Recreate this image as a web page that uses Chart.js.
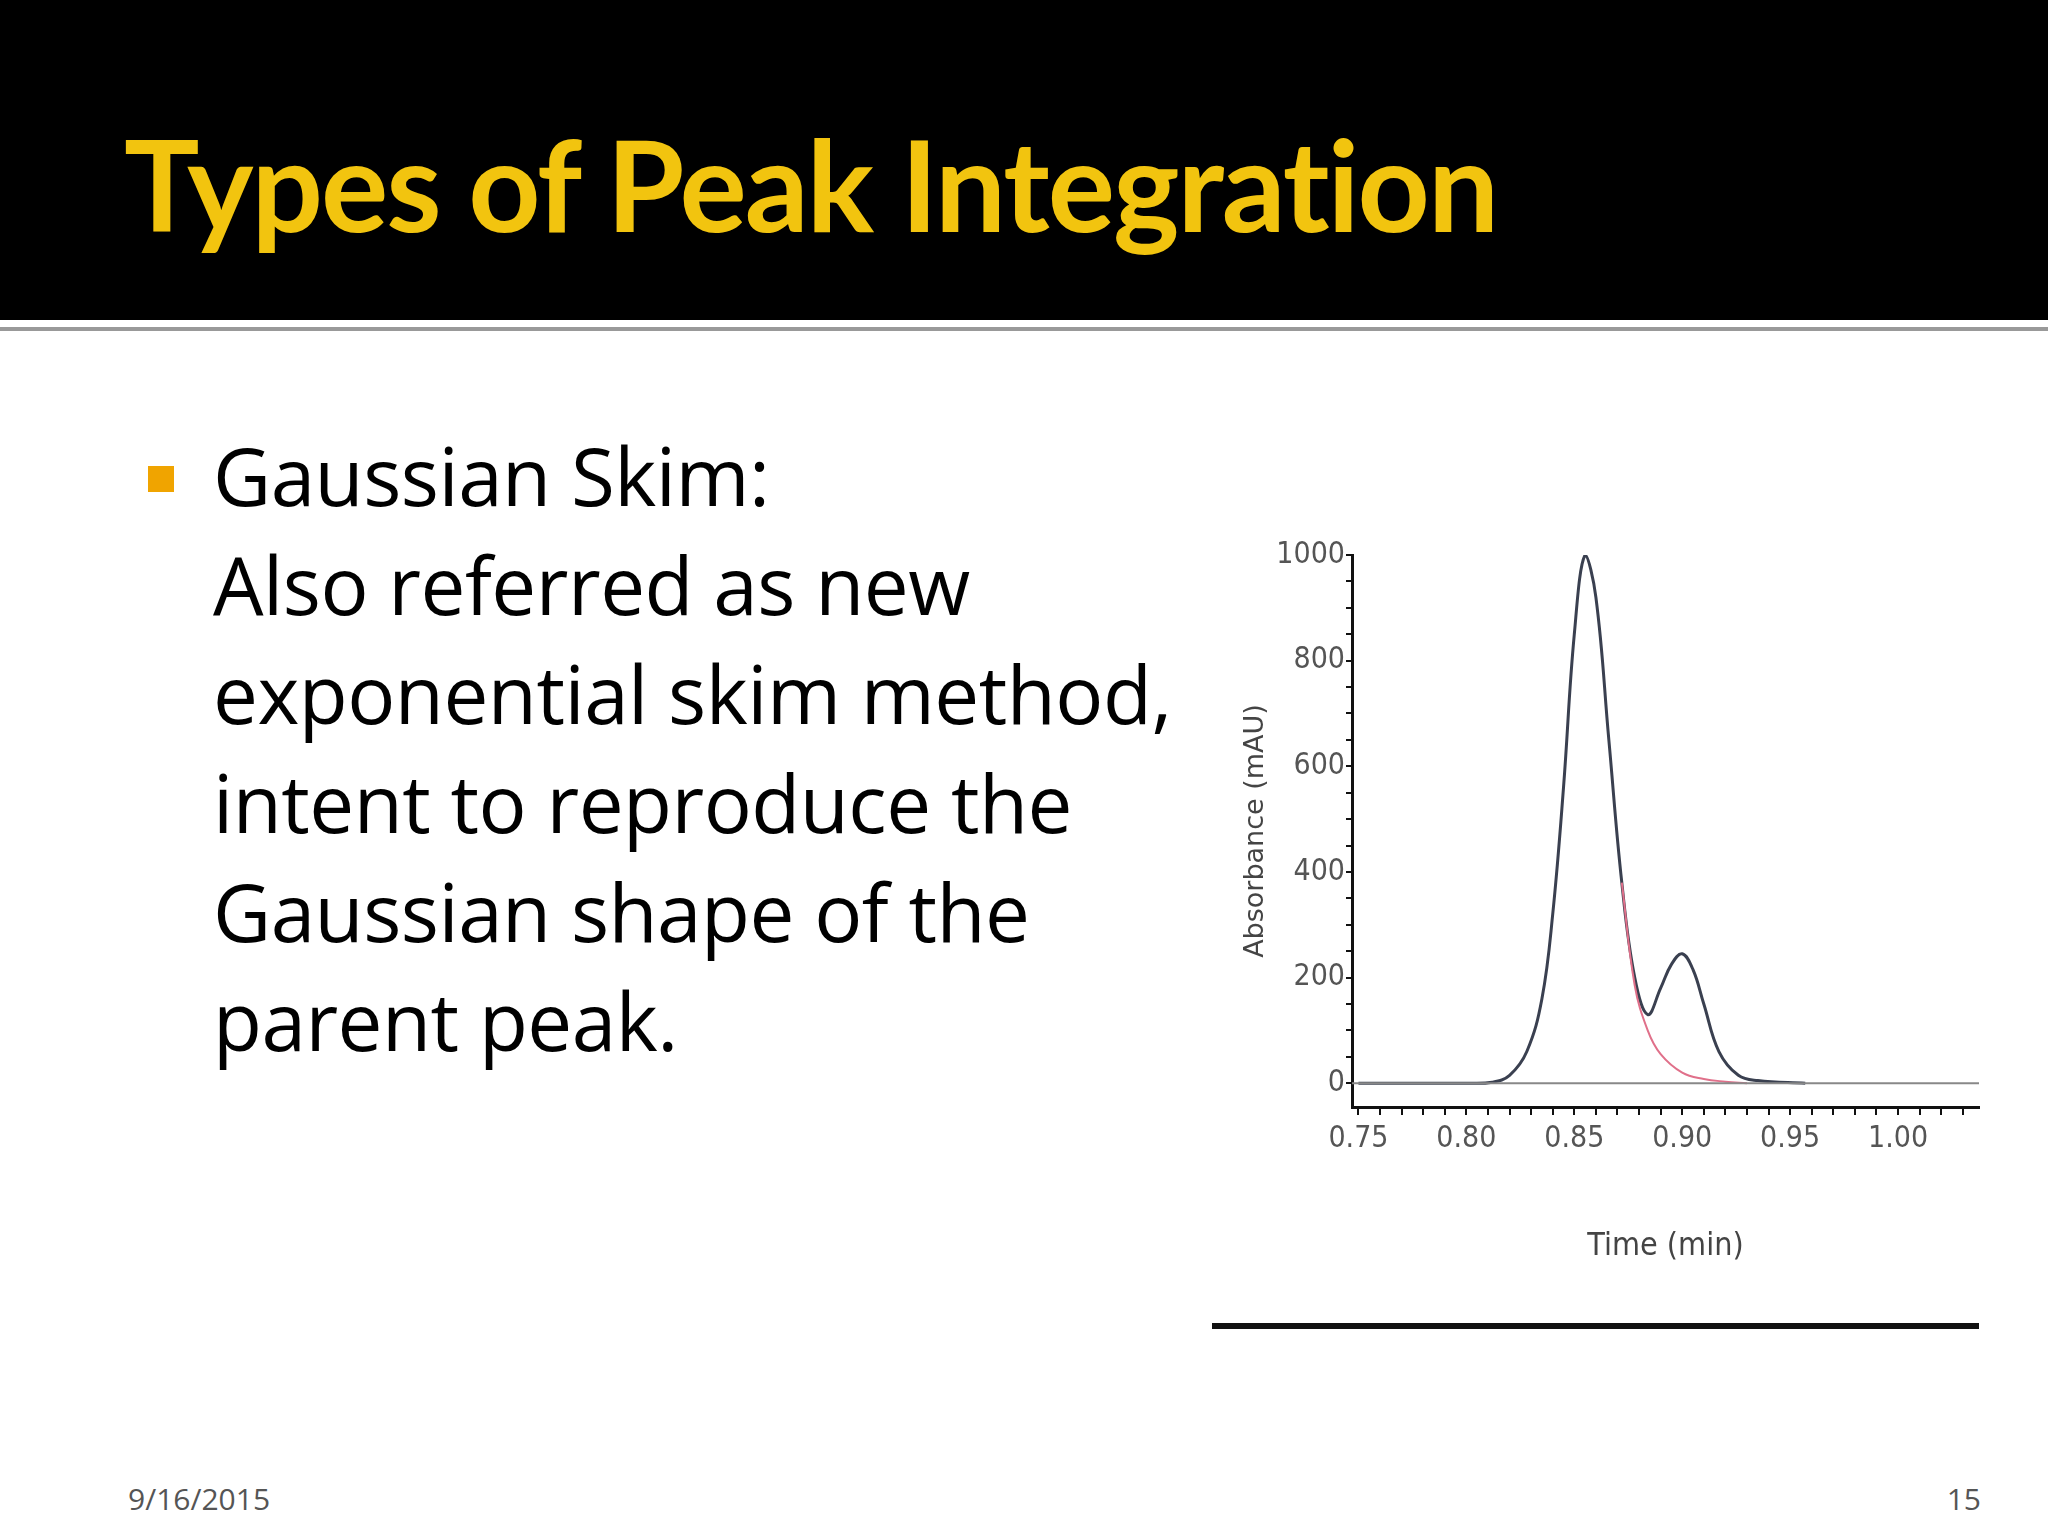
<!DOCTYPE html>
<html>
<head>
<meta charset="utf-8">
<script src="https://cdn.jsdelivr.net/npm/chart.js@4.4.1/dist/chart.umd.min.js"></script>
<style>
  body { margin: 0; width: 2048px; height: 1536px; background: #fff; position: relative; overflow: hidden; font-family: "Open Sans", sans-serif; }
  .header { position: absolute; left: 0; top: 0; width: 2048px; height: 320px; background: #000; }
  .rule { position: absolute; left: 0; top: 327px; width: 2048px; height: 4px; background: #999; }
  .title { position: absolute; left: 124px; top: 108px; font-family: Lato, sans-serif; font-weight: bold; font-size: 126px; color: #f2c40f; letter-spacing: -2px; }
  .bullet { position: absolute; left: 148px; top: 466px; width: 26px; height: 26px; background: #f0a400; }
  .body { position: absolute; left: 213px; top: 420px; font-family: "Open Sans", sans-serif; font-size: 80px; line-height: 109px; color: #000; letter-spacing: -0.5px; }
  .foot { position: absolute; top: 1478px; font-size: 30px; color: #555; }
  .bar { position: absolute; left: 1212px; top: 1323px; width: 767px; height: 6px; background: #111; }
  #wrap { position: absolute; left: 1240px; top: 520px; width: 750px; height: 750px; }
</style>
</head>
<body>
<div class="header"></div>
<div class="rule"></div>
<div class="title">Types of Peak Integration</div>
<div class="bullet"></div>
<div class="body">Gaussian Skim:<br>Also referred as new<br>exponential skim method,<br>intent to reproduce the<br>Gaussian shape of the<br>parent peak.</div>
<div class="bar"></div>
<div class="foot" style="left:128px;">9/16/2015</div>
<div class="foot" style="right:67px;">15</div>
<div id="wrap"><canvas id="chart"></canvas></div>
<script>
// main chromatogram trace (time in min, absorbance in mAU)
const timeMain = [0.75, 0.80, 0.812, 0.82, 0.828, 0.835, 0.840, 0.845, 0.850, 0.855, 0.860, 0.866, 0.872, 0.878, 0.884, 0.890, 0.895, 0.900, 0.905, 0.910, 0.917, 0.926, 0.935, 0.957];
const absMain  = [0,    0,    2,     15,    60,    160,   320,   560,   850,   1000,  920,   650,   380,   200,   130,   180,   225,   245,   215,   150,   60,    15,    5,     0];
// gaussian skim trace under the parent peak tail
const timeSkim = [0.872, 0.878, 0.884, 0.890, 0.900, 0.910, 0.920, 0.930];
const absSkim  = [380,   185,   100,   55,    20,    8,     3,     0];
// baseline
const timeBase = [0.747, 1.0375];
const absBase  = [0, 0];

const yTicks = [0, 200, 400, 600, 800, 1000];
const xTicks = [0.75, 0.80, 0.85, 0.90, 0.95, 1.00];

const pts = (xs, ys) => xs.map((x, i) => ({ x: x, y: ys[i] }));

function minorTicks(from, to, step) {
    const out = [];
    for (let v = from; v <= to + 1e-9; v += step) out.push({ value: Math.round(v * 1000) / 1000 });
    return out;
}

const tickFont = { family: "DejaVu Sans Condensed", size: 30 };

new Chart(document.getElementById("chart"), {
    type: "line",
    data: {
        datasets: [
            { data: pts(timeBase, absBase), borderColor: "#888", borderWidth: 2, pointRadius: 0 },
            { data: pts(timeSkim, absSkim), borderColor: "#e0708a", borderWidth: 2, pointRadius: 0, tension: 0.4 },
            { data: pts(timeMain, absMain), borderColor: "#3a4050", borderWidth: 3, pointRadius: 0, tension: 0.4 }
        ]
    },
    options: {
        responsive: true,
        maintainAspectRatio: false,
        animation: false,
        layout: { padding: { top: 35, right: 11, left: 0, bottom: 0 } },
        plugins: { legend: { display: false }, tooltip: { enabled: false } },
        scales: {
            x: {
                type: "linear", min: 0.747, max: 1.0375,
                afterBuildTicks: (s) => { s.ticks = minorTicks(0.75, 1.03, 0.01); },
                afterFit: (s) => { s.height = 163; },
                border: { color: "#111", width: 3 },
                grid: { drawOnChartArea: false, color: "#111", tickLength: 8, lineWidth: 2 },
                ticks: {
                    color: "#555", font: tickFont, autoSkip: false, maxRotation: 0, padding: 6,
                    callback: (v) => xTicks.some(t => Math.abs(t - v) < 1e-6) ? v.toFixed(2) : ""
                },
                title: { display: true, text: "Time (min)", color: "#444", font: { family: "DejaVu Sans Condensed", size: 32 }, padding: { top: 30 } }
            },
            y: {
                type: "linear", min: -45, max: 1000,
                afterBuildTicks: (s) => { s.ticks = minorTicks(0, 1000, 50); },
                afterFit: (s) => { s.width = 112; },
                border: { color: "#111", width: 3 },
                grid: { drawOnChartArea: false, color: "#111", tickLength: 6, lineWidth: 2 },
                ticks: {
                    color: "#555", font: tickFont, autoSkip: false, padding: 1,
                    callback: (v) => yTicks.includes(v) ? String(v) : ""
                },
                title: { display: true, text: "Absorbance (mAU)", color: "#444", font: { family: "DejaVu Sans", size: 27 }, padding: 0 }
            }
        }
    }
});
</script>
</body>
</html>
